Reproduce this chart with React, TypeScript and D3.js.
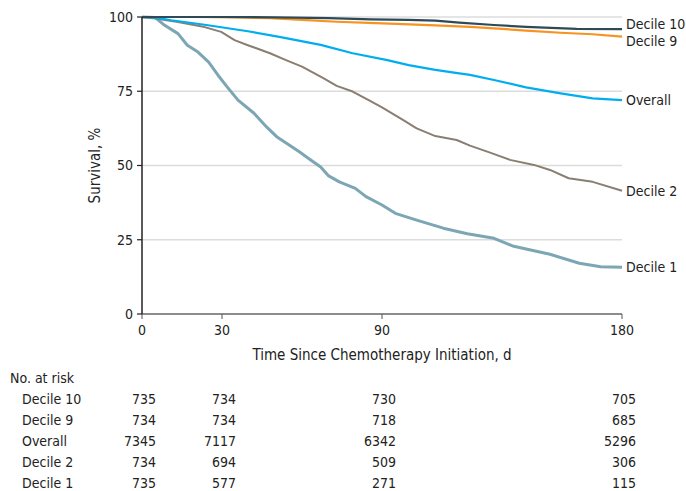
import React from "react";
import * as d3 from "d3";

const seriesNames = ["Decile 10", "Decile 9", "Overall", "Decile 2", "Decile 1"];

const d10Days = [0, 30, 50, 70, 86, 100, 110, 119, 132, 144, 163, 180];
const d10Surv = [100, 100, 99.9, 99.6, 99.2, 99, 98.8, 98.1, 97.3, 96.7, 96, 95.9];

const d9Days = [0, 20, 35, 48, 60, 73, 85, 98, 110, 123, 132, 144, 157, 169, 180];
const d9Surv = [100, 100, 99.9, 99.6, 99, 98.4, 98, 97.6, 97.2, 96.7, 96.2, 95.4, 94.7, 94.2, 93.4];

const overallDays = [0, 5, 11, 23.5, 39.7, 52, 67, 79, 92, 100, 110, 119, 123, 132, 144, 157, 169, 180];
const overallSurv = [100, 99.8, 98.9, 97.4, 95.2, 93.2, 90.6, 87.8, 85.5, 83.8, 82.2, 81, 80.5, 78.8, 76.3, 74.3, 72.6, 72];

const d2Days = [0, 5, 13.5, 23.5, 29.7, 34.7, 39.7, 48, 54, 60, 68, 73, 79, 85, 90, 98, 103, 110, 118, 123, 130, 138, 147, 153, 160, 169, 180];
const d2Surv = [100, 99.5, 98.3, 96.6, 95, 92.2, 90.5, 87.8, 85.5, 83.3, 79.4, 76.8, 74.9, 72, 69.6, 65.3, 62.5, 59.9, 58.6, 56.7, 54.5, 51.9, 50.2, 48.5, 45.7, 44.5, 41.5];

const d1Days = [0, 5, 8.5, 13.5, 17, 21, 25, 28.5, 32, 36, 42, 46.7, 50.5, 59, 63, 67, 70, 74, 80, 84, 90, 95, 103, 113, 122, 132, 139, 147, 153, 164, 172, 180];
const d1Surv = [100, 99.8, 97.2, 94.4, 90.5, 88.2, 84.8, 80.4, 76.4, 72, 67.6, 63, 59.7, 54.6, 52, 49.5, 46.5, 44.5, 42.3, 39.5, 36.7, 33.9, 31.6, 28.9, 27, 25.5, 22.9, 21.3, 20.1, 17.1, 15.9, 15.7];

const xTicks = [0, 30, 90, 180];
const yTicks = [0, 25, 50, 75, 100];

const riskTimes = [0, 30, 90, 180];
const riskD10 = [735, 734, 730, 705];
const riskD9 = [734, 734, 718, 685];
const riskOverall = [7345, 7117, 6342, 5296];
const riskD2 = [734, 694, 509, 306];
const riskD1 = [735, 577, 271, 115];

const seriesDays = [d10Days, d9Days, overallDays, d2Days, d1Days];
const seriesSurv = [d10Surv, d9Surv, overallSurv, d2Surv, d1Surv];
const riskRows = [riskD10, riskD9, riskOverall, riskD2, riskD1];

const colors = ["#2e4a58", "#f7931e", "#00aeef", "#8a7e72", "#7ca6b4"];
const widths = [2.2, 2.2, 2.2, 2, 3];
const labelDy = [-5, 4, 0, 0, 0];

const FONT = "'DejaVu Sans Condensed', 'Liberation Sans Narrow', sans-serif";

export default function App() {
  const W = 686, H = 491;
  const x = d3.scaleLinear().domain([0, 180]).range([142, 622]);
  const y = d3.scaleLinear().domain([0, 100]).range([314, 17]);
  const line = d3.line<[number, number]>().x(d => x(d[0])).y(d => y(d[1])).curve(d3.curveLinear);

  return (
    <svg width={W} height={H} style={{ position: "absolute", left: 0, top: 0, fontFamily: FONT }}>
      <rect width={W} height={H} fill="#fff" />
      {yTicks.filter(t => t > 0).map(t => (
        <line key={"g" + t} x1={x(0)} x2={x(180)} y1={y(t)} y2={y(t)} stroke="#dcdcdc" strokeWidth={1.5} />
      ))}
      {seriesNames.map((n, i) => {
        const pts: [number, number][] = seriesDays[i].map((d, j) => [d, seriesSurv[i][j]]);
        return <path key={n} d={line(pts) || ""} fill="none" stroke={colors[i]} strokeWidth={widths[i]} strokeLinejoin="round" />;
      }).reverse()}
      {/* x axis */}
      <line x1={x(0)} x2={x(180)} y1={y(0)} y2={y(0)} stroke="#8c8c8c" strokeWidth={2} />
      {xTicks.map(t => (
        <g key={"xt" + t}>
          <line x1={x(t)} x2={x(t)} y1={y(0)} y2={y(0) + 5} stroke="#555" strokeWidth={1} />
          <text x={x(t)} y={y(0) + 21} textAnchor="middle" fontSize={14} fill="#222">{t}</text>
        </g>
      ))}
      {/* y axis */}
      <line x1={x(0)} x2={x(0)} y1={y(100)} y2={y(0)} stroke="#222" strokeWidth={1.5} />
      {yTicks.map(t => (
        <g key={"yt" + t}>
          <line x1={x(0) - 5} x2={x(0)} y1={y(t)} y2={y(t)} stroke="#222" strokeWidth={1.2} />
          <text x={x(0) - 9} y={y(t)} dy="0.35em" textAnchor="end" fontSize={14} fill="#222">{t}</text>
        </g>
      ))}
      <text transform={`translate(100,${(y(0) + y(100)) / 2}) rotate(-90)`} textAnchor="middle" fontSize={15} fill="#222">Survival, %</text>
      <text x={(x(0) + x(180)) / 2} y={360} textAnchor="middle" fontSize={15} fill="#222">Time Since Chemotherapy Initiation, d</text>
      {seriesNames.map((n, i) => {
        const last = seriesSurv[i][seriesSurv[i].length - 1];
        return (
          <text key={"lab" + n} x={x(180) + 4} y={y(last) + labelDy[i]} dy="0.35em" fontSize={14} fill="#222">{n}</text>
        );
      })}
      {/* risk table */}
      <text x={10} y={383} fontSize={14} fill="#222">No. at risk</text>
      {seriesNames.map((n, i) => (
        <g key={"row" + n}>
          <text x={22} y={404 + i * 21} fontSize={14} fill="#222">{n}</text>
          {riskTimes.map((t, j) => (
            <text key={t} x={x(t) + 14} y={404 + i * 21} textAnchor="end" fontSize={14} fill="#222">{riskRows[i][j]}</text>
          ))}
        </g>
      ))}
    </svg>
  );
}
